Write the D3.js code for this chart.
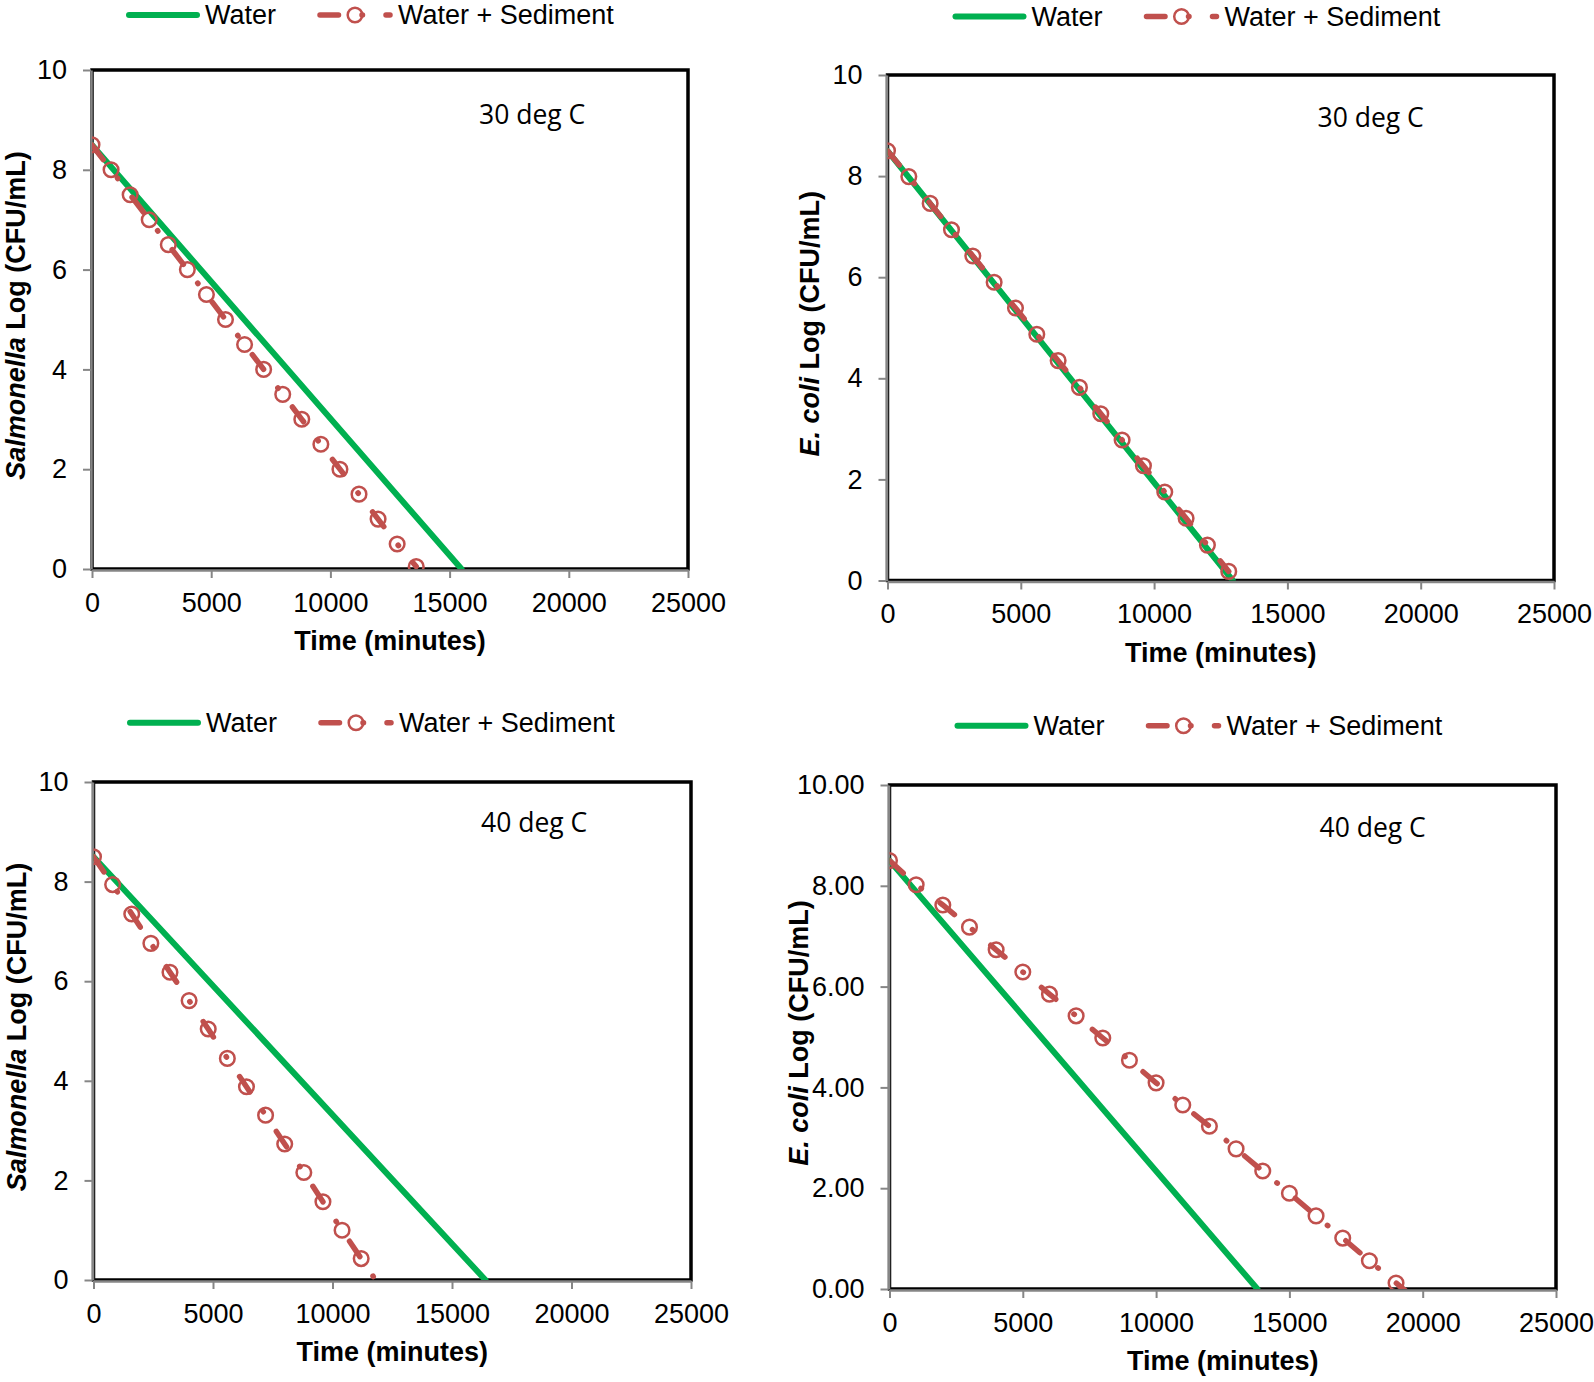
<!DOCTYPE html>
<html><head><meta charset="utf-8">
<script src="https://cdn.jsdelivr.net/npm/d3@7"></script>
<style>body{margin:0;background:#fff} svg{display:block}</style>
</head><body>
<svg id="c" width="1594" height="1382"></svg>
<script>
// ---------- data ----------
const seriesNames = ["Water", "Water + Sediment"];
const xTickValues = [0, 5000, 10000, 15000, 20000, 25000];
const yTickValues = [0, 2, 4, 6, 8, 10];
const yTickLabelsInt = ["0", "2", "4", "6", "8", "10"];
const yTickLabelsDec = ["0.00", "2.00", "4.00", "6.00", "8.00", "10.00"];

// Salmonella, 30 deg C
const sal30WaterTime = [0, 15500];
const sal30WaterLog = [8.5, 0];
const sal30SedTime = [0, 800, 1600, 2400, 3200, 4000, 4800, 5600, 6400, 7200, 8000, 8800, 9600, 10400, 11200, 12000, 12800, 13600];
const sal30SedLog = [8.5, 8.0, 7.5, 7.0, 6.5, 6.0, 5.5, 5.0, 4.5, 4.0, 3.5, 3.0, 2.5, 2.0, 1.5, 1.0, 0.5, 0.05];

// E. coli, 30 deg C
const eco30WaterTime = [0, 12950];
const eco30WaterLog = [8.5, 0];
const eco30SedTime = [0, 800, 1600, 2400, 3200, 4000, 4800, 5600, 6400, 7200, 8000, 8800, 9600, 10400, 11200, 12000, 12800];
const eco30SedLog = [8.5, 7.99, 7.46, 6.94, 6.42, 5.9, 5.39, 4.87, 4.35, 3.82, 3.3, 2.78, 2.27, 1.75, 1.23, 0.7, 0.18];

// Salmonella, 40 deg C
const sal40WaterTime = [0, 16400];
const sal40WaterLog = [8.5, 0];
const sal40SedTime = [0, 800, 1600, 2400, 3200, 4000, 4800, 5600, 6400, 7200, 8000, 8800, 9600, 10400, 11200, 12000];
const sal40SedLog = [8.5, 7.94, 7.35, 6.76, 6.18, 5.61, 5.04, 4.45, 3.88, 3.31, 2.73, 2.16, 1.57, 1.0, 0.43, -0.14];

// E. coli, 40 deg C
const eco40WaterTime = [0, 13800];
const eco40WaterLog = [8.5, 0];
const eco40SedTime = [0, 1000, 2000, 3000, 4000, 5000, 6000, 7000, 8000, 9000, 10000, 11000, 12000, 13000, 14000, 15000, 16000, 17000, 18000, 19000, 20000];
const eco40SedLog = [8.5, 8.02, 7.62, 7.18, 6.73, 6.29, 5.85, 5.42, 4.98, 4.54, 4.09, 3.65, 3.23, 2.78, 2.34, 1.9, 1.45, 1.01, 0.56, 0.12, -0.32];

const panelOrganism = ["Salmonella", "E. coli", "Salmonella", "E. coli"];
const panelTemp = ["30 deg C", "30 deg C", "40 deg C", "40 deg C"];

// ---------- layout ----------
const zip = (a, b) => a.map((v, i) => [v, b[i]]);
const panels = [
  {l: 92, r: 688, t: 70, b: 569, lx: 126, ly: 15, ax: 479, ay: 114, tx: 16.3,
   water: zip(sal30WaterTime, sal30WaterLog), sed: zip(sal30SedTime, sal30SedLog), yl: yTickLabelsInt},
  {l: 887.5, r: 1554, t: 75, b: 580.5, lx: 952.5, ly: 16.5, ax: 1317.5, ay: 117, tx: 810,
   water: zip(eco30WaterTime, eco30WaterLog), sed: zip(eco30SedTime, eco30SedLog), yl: yTickLabelsInt},
  {l: 93.5, r: 691, t: 782, b: 1280, lx: 127, ly: 722.8, ax: 481, ay: 822.4, tx: 17.3,
   water: zip(sal40WaterTime, sal40WaterLog), sed: zip(sal40SedTime, sal40SedLog), yl: yTickLabelsInt},
  {l: 889.5, r: 1556, t: 785, b: 1289, lx: 954.5, ly: 725.8, ax: 1319.5, ay: 826.5, tx: 799,
   water: zip(eco40WaterTime, eco40WaterLog), sed: zip(eco40SedTime, eco40SedLog), yl: yTickLabelsDec}
];

const GREEN = "#00B050", RED = "#C0504D", AXIS = "#868686";
const SANS = "'Liberation Sans', Arial, sans-serif";
const DASH = "18.5,23.5,0.5,23.5";

const svg = d3.select("#c");
const defs = svg.append("defs");

panels.forEach((p, i) => {
  const x = d3.scaleLinear().domain([0, 25000]).range([p.l, p.r]);
  const y = d3.scaleLinear().domain([0, 10]).range([p.b, p.t]);
  const g = svg.append("g");

  defs.append("clipPath").attr("id", "clip" + i)
    .append("rect").attr("x", p.l).attr("y", p.t).attr("width", p.r - p.l).attr("height", p.b - p.t);

  // frame
  g.append("rect").attr("x", p.l).attr("y", p.t).attr("width", p.r - p.l).attr("height", p.b - p.t)
    .attr("fill", "none").attr("stroke", "#000").attr("stroke-width", 3.5);

  // axes
  const ya = g.append("g").attr("transform", `translate(${p.l - 1},0)`)
    .call(d3.axisLeft(y).tickValues(yTickValues).tickSize(8).tickSizeOuter(0).tickPadding(16)
      .tickFormat((d, j) => p.yl[j]));
  const xa = g.append("g").attr("transform", `translate(0,${p.b + 1})`)
    .call(d3.axisBottom(x).tickValues(xTickValues).tickSize(8).tickSizeOuter(0).tickPadding(14.5)
      .tickFormat(d3.format("d")));
  [ya, xa].forEach(a => {
    a.select(".domain").attr("stroke", AXIS).attr("stroke-width", 2.5);
    a.selectAll(".tick line").attr("stroke", AXIS).attr("stroke-width", 2);
    a.selectAll(".tick text").attr("fill", "#000").style("font-family", SANS).style("font-size", "27px");
  });

  // series
  const line = d3.line().x(d => x(d[0])).y(d => y(d[1]));
  const plot = g.append("g").attr("clip-path", `url(#clip${i})`);
  plot.append("path").datum(p.water).attr("d", line).attr("fill", "none")
    .attr("stroke", GREEN).attr("stroke-width", 6).attr("stroke-linecap", "round");
  plot.append("path").datum(p.sed).attr("d", line).attr("fill", "none")
    .attr("stroke", RED).attr("stroke-width", 5.5).attr("stroke-linecap", "round")
    .attr("stroke-dasharray", DASH);
  plot.selectAll("circle").data(p.sed.filter(d => d[1] >= 0)).enter().append("circle")
    .attr("cx", d => x(d[0])).attr("cy", d => y(d[1])).attr("r", 7.3)
    .attr("fill", "none").attr("stroke", RED).attr("stroke-width", 2.5);

  // annotation
  g.append("text").attr("x", p.ax).attr("y", p.ay).attr("dominant-baseline", "central")
    .style("font-family", "'Open Sans', sans-serif").style("font-size", "26.5px").text(panelTemp[i]);

  // axis titles
  g.append("text").attr("x", (p.l + p.r) / 2).attr("y", p.b + 72).attr("text-anchor", "middle")
    .attr("dominant-baseline", "central").style("font-family", SANS).style("font-size", "27px")
    .style("font-weight", "bold").text("Time (minutes)");
  const cy = (p.t + p.b) / 2 - 4;
  const yt = g.append("text").attr("transform", `translate(${p.tx},${cy}) rotate(-90)`)
    .attr("text-anchor", "middle").attr("dominant-baseline", "central")
    .style("font-family", SANS).style("font-size", "27px").style("font-weight", "bold");
  yt.append("tspan").style("font-style", "italic").text(panelOrganism[i]);
  yt.append("tspan").text(" Log (CFU/mL)");

  // legend
  const lg = svg.append("g");
  lg.append("line").attr("x1", p.lx + 3).attr("x2", p.lx + 71).attr("y1", p.ly).attr("y2", p.ly)
    .attr("stroke", GREEN).attr("stroke-width", 6).attr("stroke-linecap", "round");
  lg.append("text").attr("x", p.lx + 79).attr("y", p.ly).attr("dominant-baseline", "central")
    .style("font-family", SANS).style("font-size", "27px").text(seriesNames[0]);
  lg.append("line").attr("x1", p.lx + 194).attr("x2", p.lx + 264).attr("y1", p.ly).attr("y2", p.ly)
    .attr("stroke", RED).attr("stroke-width", 5.5).attr("stroke-linecap", "round").attr("stroke-dasharray", DASH);
  lg.append("circle").attr("cx", p.lx + 229).attr("cy", p.ly).attr("r", 7.3)
    .attr("fill", "none").attr("stroke", RED).attr("stroke-width", 2.5);
  lg.append("text").attr("x", p.lx + 272).attr("y", p.ly).attr("dominant-baseline", "central")
    .style("font-family", SANS).style("font-size", "27px").text(seriesNames[1]);
});
</script>
</body></html>
